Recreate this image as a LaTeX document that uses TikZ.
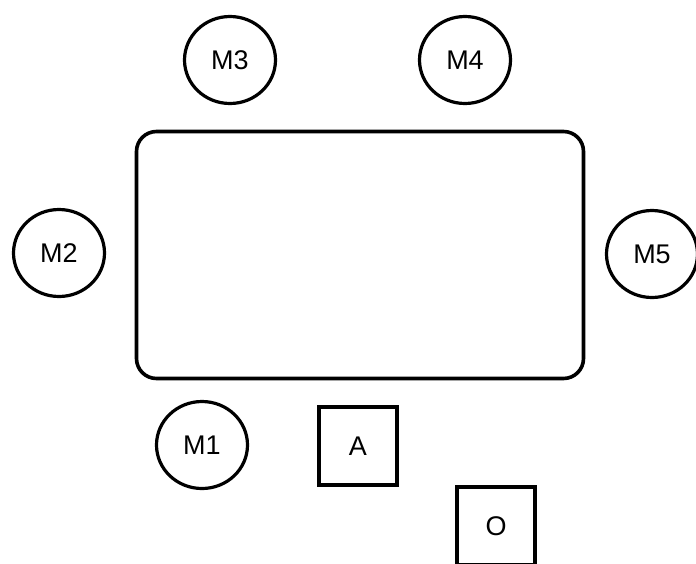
\documentclass[tikz,border=0pt]{standalone}
\usepackage{fontspec}
\setmainfont{Liberation Sans}
\usetikzlibrary{shapes.geometric}
\begin{document}
\begin{tikzpicture}[x=1pt,y=-1pt,
  member/.style={ellipse,draw,line width=3.2pt,inner sep=0pt,minimum width=91pt,minimum height=87pt,font=\fontsize{27}{31}\selectfont},
  boxnode/.style={rectangle,draw,line width=3.2pt,inner sep=0pt,minimum size=78pt,font=\fontsize{27}{31}\selectfont},
  tablebox/.style={rectangle,draw,line width=3.6pt,rounded corners=20pt,inner sep=0pt,minimum width=447pt,minimum height=247pt}]
\useasboundingbox (0,0) rectangle (696,563);
\fill[white] (0,0) rectangle (696,563);
\node[tablebox] (table) at (360,255) {};
\node[member] (M3) at (230,60) {M3};
\node[member] (M4) at (465,60) {M4};
\node[member] (M2) at (59,253) {M2};
\node[member] (M5) at (652,254) {M5};
\node[member] (M1) at (202,445) {M1};
\node[boxnode] (A) at (358,446) {A};
\node[boxnode] (O) at (496,526) {O};
\end{tikzpicture}
\end{document}
